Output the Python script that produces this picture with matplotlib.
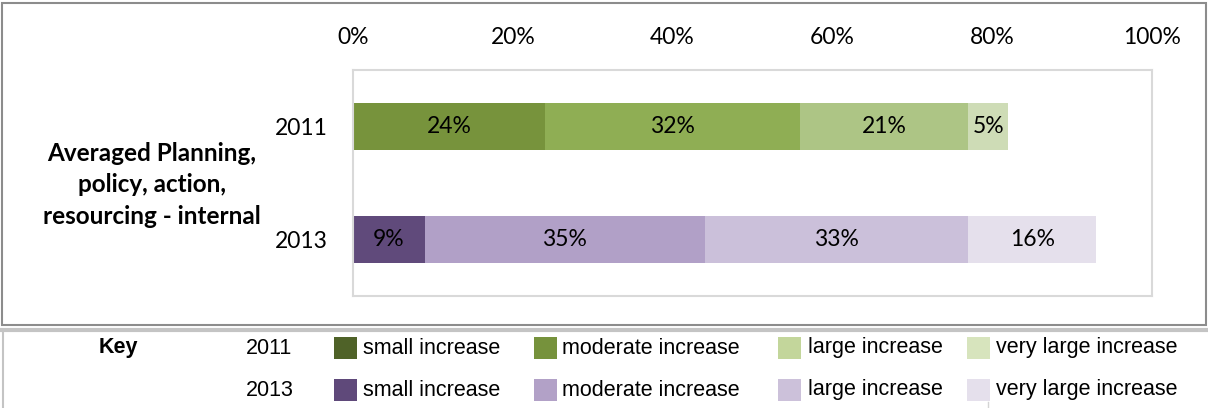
import matplotlib.pyplot as plt
from matplotlib.patches import Rectangle
from matplotlib.lines import Line2D

# data
years = ['2011', '2013']
levels = ['small increase', 'moderate increase', 'large increase', 'very large increase']
pct_2011 = [24, 32, 21, 5]
pct_2013 = [9, 35, 33, 16]
ticks = [0, 20, 40, 60, 80, 100]
category = 'Averaged Planning,\npolicy, action,\nresourcing - internal'

# bar colours and key swatch colours
bar_green = ['#77933C', '#8FAE54', '#ADC585', '#CEDCB6']
bar_purple = ['#604A7B', '#B1A0C7', '#CBC0DA', '#E5E0EC']
key_green = ['#4F6228', '#76923C', '#C3D69B', '#D7E4BD']
key_purple = ['#5F497A', '#B2A1C7', '#CCC1DA', '#E5E0EC']

W, H = 1208, 408
fig = plt.figure(figsize=(W / 100, H / 100), dpi=100)


def fx(px):
    return px / W


def fy(py):
    return 1 - py / H


chart_font = 'Lato'
key_font = 'Liberation Sans'

ax = fig.add_axes([fx(353), fy(296), fx(1152) - fx(353), fy(70) - fy(296)])

for row, vals, cols in [(0, pct_2011, bar_green), (1, pct_2013, bar_purple)]:
    left = 0
    for v, c in zip(vals, cols):
        ax.barh(row, v, left=left, height=0.41, color=c, edgecolor='none')
        ax.text(left + v / 2, row, f'{v}%', ha='center', va='center',
                fontsize=16.5, family=chart_font, color='black')
        left += v

ax.set_xlim(0, 100)
ax.set_ylim(1.5, -0.5)
ax.set_xticks(ticks)
ax.set_xticklabels([f'{t}%' for t in ticks], family=chart_font, fontsize=16.5)
ax.set_yticks([0, 1])
ax.set_yticklabels(years, family=chart_font, fontsize=16.5)
ax.xaxis.tick_top()
ax.tick_params(axis='x', length=0, pad=16)
ax.tick_params(axis='y', length=0, pad=18)
for s in ax.spines.values():
    s.set_color('#D9D9D9')
    s.set_linewidth(1.5)

fig.text(fx(152), fy(185), category, ha='center', va='center',
         family=chart_font, fontsize=17.5, fontweight='bold', linespacing=1.45)

# outer frame of the chart
fig.add_artist(Rectangle((fx(2), fy(325)), fx(1206) - fx(2), fy(3) - fy(325),
                         transform=fig.transFigure, fill=False,
                         edgecolor='#8C8C8C', linewidth=1.5))
# key table borders
fig.add_artist(Line2D([0, 1], [fy(329.5), fy(329.5)], transform=fig.transFigure,
                      color='#C4C4C4', linewidth=3))
fig.add_artist(Line2D([fx(3), fx(3)], [fy(331), 0], transform=fig.transFigure,
                      color='#C4C4C4', linewidth=1.5))
fig.add_artist(Line2D([fx(988), fx(988)], [fy(402), 0], transform=fig.transFigure,
                      color='#D4D4D4', linewidth=1))

# key
fig.text(fx(118), fy(348), 'Key', ha='center', va='center',
         family=key_font, fontsize=15.5, fontweight='bold')
swatch_x = [334, 534, 778, 967]
text_x = [363, 562, 808, 996]
for ry, yr, cols in [(348, years[0], key_green), (390, years[1], key_purple)]:
    fig.text(fx(246), fy(ry), yr, ha='left', va='center', family=key_font, fontsize=15.5)
    for sx, tx, c, lab in zip(swatch_x, text_x, cols, levels):
        fig.add_artist(Rectangle((fx(sx), fy(ry + 11)), fx(23), 22 / H,
                                 transform=fig.transFigure, color=c, linewidth=0))
        fig.text(fx(tx), fy(ry), lab, ha='left', va='center', family=key_font, fontsize=15.5)

fig.savefig('out.png', dpi=100)
